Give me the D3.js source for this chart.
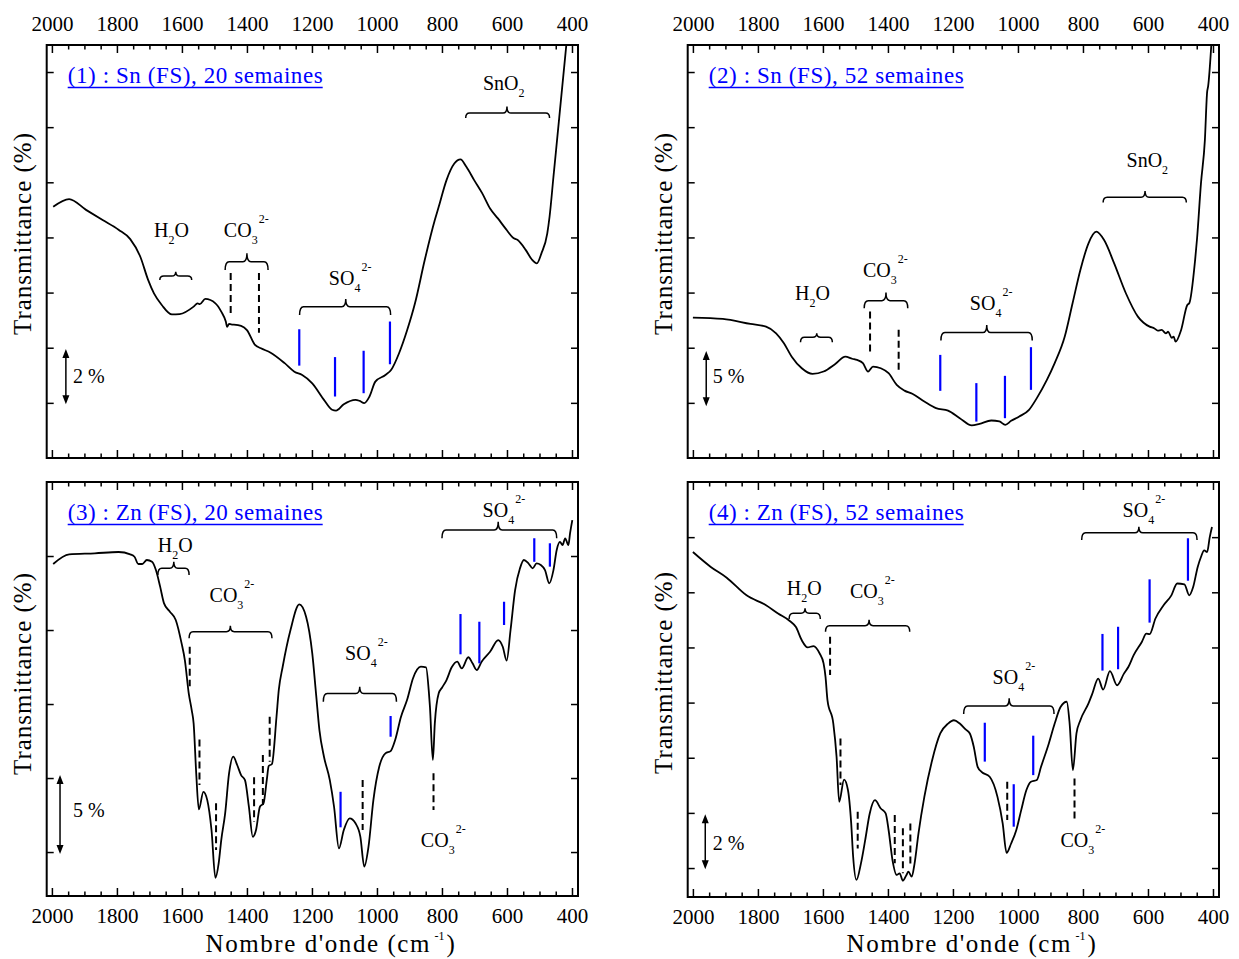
<!DOCTYPE html>
<html><head><meta charset="utf-8">
<script src="https://cdn.jsdelivr.net/npm/d3@7"></script>
<style>
body{margin:0;background:#fff}
svg{display:block}
text{font-family:"Liberation Serif","Times New Roman",serif}
</style>
</head><body>
<svg id="c" width="1239" height="959"></svg>
<script>
// ---------- DATA (wavenumber cm-1, transmittance % relative) ----------
const wn1 = [1996,1947,1895,1844,1795,1759,1728,1704,1686,1662,1631,1607,1564,1552,1545,1528,1497,1479,1465,1461,1455,1449,1418,1400,1375,1357,1327,1284,1254,1230,1199,1163,1138,1126,1102,1066,1053,1039,1023,1005,974,956,932,907,883,853,822,810,786,762,743,725,701,676,652,628,603,579,567,542,524,508,494,476,469,457,439,421,405];
const t1 = [7.11,7.39,7.0,6.63,6.28,5.94,5.30,4.46,3.97,3.55,3.21,3.22,3.49,3.61,3.58,3.77,3.61,3.31,2.95,2.76,2.86,2.85,2.79,2.64,2.10,1.98,1.82,1.44,1.13,1.01,0.71,0.11,-0.25,-0.28,-0.05,0.11,0.07,-0.01,0.23,0.77,1.01,1.20,1.80,2.64,3.61,5.18,6.63,7.11,8.08,8.68,8.83,8.56,8.08,7.60,7.05,6.69,6.30,5.97,5.91,5.54,5.21,5.06,5.42,6.15,6.75,8.20,10.37,12.55,14.5];

const wn2 = [2000,1908,1823,1775,1744,1720,1696,1665,1632,1598,1562,1531,1510,1495,1477,1461,1446,1422,1398,1373,1349,1325,1288,1252,1215,1179,1142,1118,1082,1057,1039,1021,996,966,942,911,887,856,832,808,783,759,735,704,668,631,595,580,570,558,545,538,527,521,515,498,479,473,455,449,437,425,418,415,404];
const t2 = [7.73,7.61,7.16,6.91,6.31,5.41,4.19,3.14,2.63,2.84,3.53,4.19,4.0,3.89,3.60,2.84,3.29,3.14,2.69,1.63,1.11,0.82,0.12,-0.48,-0.70,-1.39,-2.05,-1.90,-1.60,-1.69,-1.99,-1.63,-1.24,-0.63,0.43,2.08,3.60,6.01,9.03,12.05,14.47,15.52,14.76,12.65,9.94,7.82,6.91,6.75,6.55,6.61,6.3,6.45,5.9,6.0,5.55,6.61,8.88,9.03,12.95,14.9,19.9,23.8,28.2,28.7,33];

const wn3 = [1996,1947,1868,1795,1759,1746,1734,1722,1708,1692,1680,1667,1655,1637,1619,1601,1591,1579,1570,1564,1556,1548,1534,1522,1509,1497,1487,1479,1467,1455,1442,1430,1418,1406,1394,1382,1372,1360,1349,1339,1333,1323,1309,1302,1290,1266,1239,1218,1199,1187,1177,1163,1145,1132,1117,1102,1084,1066,1051,1039,1026,1011,993,974,958,944,926,907,889,865,849,840,837,828,822,810,800,786,770,753,739,719,706,693,678,652,627,613,601,589,575,560,548,534,521,509,496,483,470,457,447,437,429,421,411,406,399];
const t3 = [19.46,20.11,20.18,20.27,20.11,19.95,19.46,19.46,19.73,19.61,19.05,17.93,16.80,16.24,15.68,14.10,12.97,10.72,9.6,8.69,5.31,2.88,4.07,3.51,1.49,-1.74,-0.77,0.81,2.61,5.31,6.44,5.88,5.20,4.86,3.06,1.03,1.49,3.06,3.29,4.86,5.81,5.95,9.14,10.95,12.52,15.0,16.73,15.90,13.42,10.6,8.24,6.44,4.86,3.06,0.25,1.49,2.28,1.94,1.03,-0.99,0.36,3.51,5.76,6.67,6.82,7.57,9.14,10.3,11.74,12.52,12.48,10.72,9.82,6.22,8.69,10.72,11.1,11.62,12.48,12.86,12.41,13.16,12.75,12.30,12.86,13.53,14.32,13.87,12.93,15.0,17.70,19.17,19.73,19.50,19.17,19.50,19.39,19.05,18.16,19.05,20.41,20.95,20.74,21.19,20.74,21.53,22.43];

const wn4 = [2000,1945,1896,1835,1775,1738,1702,1683,1665,1647,1629,1610,1598,1592,1586,1568,1558,1550,1535,1523,1513,1507,1497,1483,1470,1456,1440,1422,1407,1398,1386,1373,1364,1354,1343,1337,1327,1318,1306,1288,1264,1239,1215,1197,1179,1161,1148,1136,1124,1112,1087,1063,1047,1035,1021,1005,990,974,960,942,929,905,887,869,850,841,831,820,808,783,772,753,738,717,695,674,660,644,619,605,595,577,552,528,510,488,473,461,447,437,427,418,410,403];
const t4 = [11.46,10.92,10.53,9.89,9.53,9.23,8.96,8.74,8.26,8.00,8.05,7.78,7.42,6.93,6.09,5.24,4.03,2.40,3.21,2.83,1.62,0.41,-0.43,0.17,1.01,1.98,2.46,2.16,1.98,1.38,0.29,-0.25,-0.19,-0.46,-0.25,-0.13,-0.31,0.17,1.26,2.58,3.91,4.88,5.24,5.36,5.24,5.03,4.88,4.40,3.67,3.49,3.31,2.58,1.62,0.55,0.89,1.38,2.10,2.83,3.13,3.19,3.67,4.52,5.24,5.84,6.03,5.24,3.55,4.88,5.36,5.97,6.3,6.87,6.47,7.14,6.63,7.05,7.3,7.72,8.20,8.50,8.48,9.05,9.53,9.89,10.32,10.29,9.89,10.19,10.92,11.28,11.52,11.46,12.00,12.37];

// x tick labels
const majorTicks = [2000,1800,1600,1400,1200,1000,800,600,400];
const minorTicks = d3.range(2000, 399, -50).filter(v => v % 200 !== 0);

// band markers: [wavenumber, from, to]
const blue1 = [[1239,2.67,1.35],[1129,1.66,0.23],[1041,1.89,0.35],[960,2.95,1.40]];
const dash1 = [[1450,4.71,3.13],[1363,4.71,2.54]];
const blue2 = [[1239,4.35,1.09],[1128,1.79,-1.70],[1040,2.45,-1.39],[960,5.05,1.18]];
const dash2 = [[1455,8.28,4.35],[1367,6.62,2.84]];
const blue3 = [[1112,4.07,1.67],[958,9.19,7.79],[743,16.08,13.36],[685,15.56,12.75],[609,16.91,15.34],[516,21.20,19.61],[468,20.86,19.28]];
const dash3 = [[1576,13.87,11.2],[1546,7.61,4.53],[1495,3.29,0.14],[1378,5.05,2.05],[1351,6.55,3.18],[1330,9.14,6.10],[1044,4.86,1.49],[826,5.32,2.84]];
const blue4 = [[1102,5.27,3.86],[1013,3.04,1.50],[953,4.80,3.37],[740,8.49,7.16],[692,8.75,7.21],[595,10.47,8.90],[477,11.96,10.42]];
const dash4 = [[1578,8.39,7.00],[1546,4.70,3.01],[1493,2.04,0.71],[1379,1.92,0.17],[1354,1.44,-0.19],[1331,1.62,0.05],[1033,3.13,1.74],[826,3.25,1.80]];

// braces: [wnStart, wnEnd, wnCenter, tip, flat, peak]
const brace1 = [[1668,1570,1619,4.46,4.60,4.76],[1467,1335,1400,4.82,5.12,5.43],[1238,958,1096,3.19,3.49,3.77],[727,469,600,10.33,10.51,10.75]];
const brace2 = [[1669,1571,1619,5.50,5.96,6.32],[1473,1339,1406,8.59,9.27,10.0],[1237,956,1096,5.65,6.37,7.07],[738,482,609,18.16,18.65,19.22]];
const brace3 = [[1674,1578,1625,18.72,19.17,19.61],[1578,1323,1451,14.44,14.89,15.29],[1165,940,1053,10.16,10.71,11.17],[800,447,627,21.20,21.76,22.32]];
const brace4 = [[1704,1608,1655,9.03,9.24,9.42],[1592,1333,1458,8.57,8.79,9.0],[1167,889,1027,5.59,5.88,6.16],[804,449,628,11.90,12.16,12.38]];

// species labels: [wavenumber, value, species]
const lab1 = [[1686,6.03,"H2O"],[1471,6.02,"CO3"],[1148,4.28,"SO4"],[674,11.33,"SnO2"]];
const lab2 = [[1686,9.34,"H2O"],[1477,11.45,"CO3"],[1148,8.43,"SO4"],[666,21.42,"SnO2"]];
const lab3 = [[1674,20.29,"H2O"],[1515,16.91,"CO3"],[1098,12.97,"SO4"],[675,22.66,"SO4"],[865,0.36,"CO3"]];
const lab4 = [[1711,9.90,"H2O"],[1517,9.78,"CO3"],[1078,6.67,"SO4"],[678,12.72,"SO4"],[869,0.77,"CO3"]];

const titles = ["(1) : Sn (FS), 20 semaines","(2) : Sn (FS), 52 semaines","(3) : Zn (FS), 20 semaines","(4) : Zn (FS), 52 semaines"];
// scale bars: [wavenumber, from, to, label, labelWn, labelVal]
const bars = [[1957,-0.05,1.95,"2 %",1935,0.72],[1959,-0.3,4.7,"5 %",1939,1.79],[1975,-0.14,5.2,"5 %",1935,2.39],[1962,-0.04,1.95,"2 %",1939,0.65]];

// ---------- LAYOUT ----------
const svg = d3.select("#c");
const defs = svg.append("defs");
const BLUE = "#0000ff";
const xDomain = [2016, 381.5];
const panels = [
  {id:1,l:46.7,r:578,t:45,b:458,yd:[-2,12.98],yt:[0,2,4,6,8,10,12],top:true,wn:wn1,tv:t1,blue:blue1,dash:dash1,brace:brace1,lab:lab1,ytY:234},
  {id:2,l:687.7,r:1219,t:45,b:458,yd:[-5,32.45],yt:[0,5,10,15,20,25,30],top:true,wn:wn2,tv:t2,blue:blue2,dash:dash2,brace:brace2,lab:lab2,ytY:234},
  {id:3,l:46.7,r:578,t:482,b:896,yd:[-2.97,25],yt:[0,5,10,15,20],top:false,wn:wn3,tv:t3,blue:blue3,dash:dash3,brace:brace3,lab:lab3,ytY:674},
  {id:4,l:687.7,r:1219,t:482,b:897,yd:[-1.05,14.0],yt:[0,2,4,6,8,10,12],top:false,wn:wn4,tv:t4,blue:blue4,dash:dash4,brace:brace4,lab:lab4,ytY:673}
];

const chem = {
  H2O:[["H",0],["2",1],["O",0]],
  CO3:[["CO",0],["3",1],["2-",2]],
  SO4:[["SO",0],["4",1],["2-",2]],
  SnO2:[["SnO",0],["2",1]]
};

panels.forEach((p, i) => {
  const x = d3.scaleLinear().domain(xDomain).range([p.l, p.r]);
  const y = d3.scaleLinear().domain(p.yd).range([p.b, p.t]);
  const g = svg.append("g");
  const cid = "clip" + p.id;
  defs.append("clipPath").attr("id", cid).append("rect")
    .attr("x", p.l).attr("y", p.t).attr("width", p.r - p.l).attr("height", p.b - p.t);

  // x axes (top & bottom), inward ticks
  [[d3.axisTop, p.t, p.top, 14.5], [d3.axisBottom, p.b, !p.top, 12.1]].forEach(([fn, yy, lab, pad]) => {
    const a1 = g.append("g").attr("transform", `translate(0,${yy})`)
      .call(fn(x).tickValues(majorTicks).tickSize(-8).tickPadding(pad)
        .tickFormat(lab ? d3.format("d") : () => ""));
    const a2 = g.append("g").attr("transform", `translate(0,${yy})`)
      .call(fn(x).tickValues(minorTicks).tickSize(-4.5).tickFormat(() => ""));
    [a1, a2].forEach(a => {
      a.select(".domain").remove();
      a.selectAll("line").attr("stroke", "#000").attr("stroke-width", 1.5);
      a.attr("font-family", '"Liberation Serif","Times New Roman",serif').attr("font-size", 21);
      a.selectAll("text").attr("fill", "#000");
    });
  });
  // y ticks both sides, inward, no labels
  [[d3.axisLeft, p.l], [d3.axisRight, p.r]].forEach(([fn, xx]) => {
    const a = g.append("g").attr("transform", `translate(${xx},0)`)
      .call(fn(y).tickValues(p.yt).tickSize(-7).tickFormat(() => ""));
    a.select(".domain").remove();
    a.selectAll("line").attr("stroke", "#000").attr("stroke-width", 1.5);
  });

  // spectrum
  const pts = p.wn.map((w, k) => [w, p.tv[k]]);
  g.append("path").datum(pts).attr("clip-path", `url(#${cid})`)
    .attr("fill", "none").attr("stroke", "#000").attr("stroke-width", 1.8).attr("stroke-linejoin", "round")
    .attr("d", d3.line().x(d => x(d[0])).y(d => y(d[1])).curve(d3.curveMonotoneX));

  // frame
  g.append("rect").attr("x", p.l).attr("y", p.t).attr("width", p.r - p.l).attr("height", p.b - p.t)
    .attr("fill", "none").attr("stroke", "#000").attr("stroke-width", 2);

  // blue markers
  g.selectAll(null).data(p.blue).join("line")
    .attr("x1", d => x(d[0])).attr("x2", d => x(d[0]))
    .attr("y1", d => y(d[1])).attr("y2", d => y(d[2]))
    .attr("stroke", BLUE).attr("stroke-width", 2.2);
  // dashed markers
  g.selectAll(null).data(p.dash).join("line")
    .attr("x1", d => x(d[0])).attr("x2", d => x(d[0]))
    .attr("y1", d => y(d[1])).attr("y2", d => y(d[2]))
    .attr("stroke", "#000").attr("stroke-width", 2).attr("stroke-dasharray", "7,4");
  // braces
  g.selectAll(null).data(p.brace).join("path")
    .attr("fill", "none").attr("stroke", "#000").attr("stroke-width", 1.5)
    .attr("d", b => {
      const x1 = x(b[0]), x2 = x(b[1]), xc = x(b[2]);
      const yt = y(b[3]), yf = y(b[4]), yp = y(b[5]);
      const r = 4;
      return `M${x1},${yt} Q${x1},${yf} ${x1 + r},${yf} L${xc - r},${yf} Q${xc},${yf} ${xc},${yp} ` +
             `Q${xc},${yf} ${xc + r},${yf} L${x2 - r},${yf} Q${x2},${yf} ${x2},${yt}`;
    });
  // species labels
  p.lab.forEach(([w, v, key]) => {
    const t = g.append("text").attr("x", x(w)).attr("y", y(v)).attr("font-size", 20).attr("fill", "#000");
    let cur = 0;
    chem[key].forEach(([s, k]) => {
      const off = k === 0 ? 0 : (k === 1 ? 7 : -14);
      t.append("tspan").attr("dy", off - cur).attr("dx", k === 2 ? 1 : 0)
        .attr("font-size", k === 0 ? 20 : 12).text(s);
      cur = off;
    });
  });

  // scale bar
  const bar = bars[i];
  const bx = x(bar[0]), by1 = y(bar[1]), by2 = y(bar[2]);
  g.append("line").attr("x1", bx).attr("x2", bx).attr("y1", by1 - 6).attr("y2", by2 + 6)
    .attr("stroke", "#000").attr("stroke-width", 1.5);
  g.append("path").attr("fill", "#000")
    .attr("d", `M${bx},${by2} L${bx - 3.5},${by2 + 9} L${bx + 3.5},${by2 + 9}Z M${bx},${by1} L${bx - 3.5},${by1 - 9} L${bx + 3.5},${by1 - 9}Z`);
  g.append("text").attr("x", x(bar[4])).attr("y", y(bar[5])).attr("font-size", 20).text(bar[3]);

  // title (blue, underlined)
  const tx = p.l + 21, ty = p.t + 38;
  g.append("text").attr("x", tx).attr("y", ty).attr("font-size", 23).attr("fill", BLUE)
    .attr("textLength", 255).attr("lengthAdjust", "spacing").text(titles[i]);
  g.append("line").attr("x1", tx).attr("x2", tx + 255).attr("y1", ty + 4.5).attr("y2", ty + 4.5)
    .attr("stroke", BLUE).attr("stroke-width", 1.3);

  // y axis title
  g.append("text").attr("transform", `translate(${p.l - 15.7},${p.ytY}) rotate(-90)`)
    .attr("text-anchor", "middle").attr("font-size", 25)
    .attr("textLength", 202).attr("lengthAdjust", "spacing").text("Transmittance (%)");

  // x axis title (bottom panels)
  if (!p.top) {
    const sx = p.l + 158.8;
    g.append("text").attr("x", sx).attr("y", 952).attr("font-size", 25)
      .attr("textLength", 224).attr("lengthAdjust", "spacing").text("Nombre d'onde (cm");
    g.append("text").attr("x", sx + 229).attr("y", 940).attr("font-size", 12).text("-1");
    g.append("text").attr("x", sx + 241).attr("y", 952).attr("font-size", 25).text(")");
  }
});
</script>
</body></html>
